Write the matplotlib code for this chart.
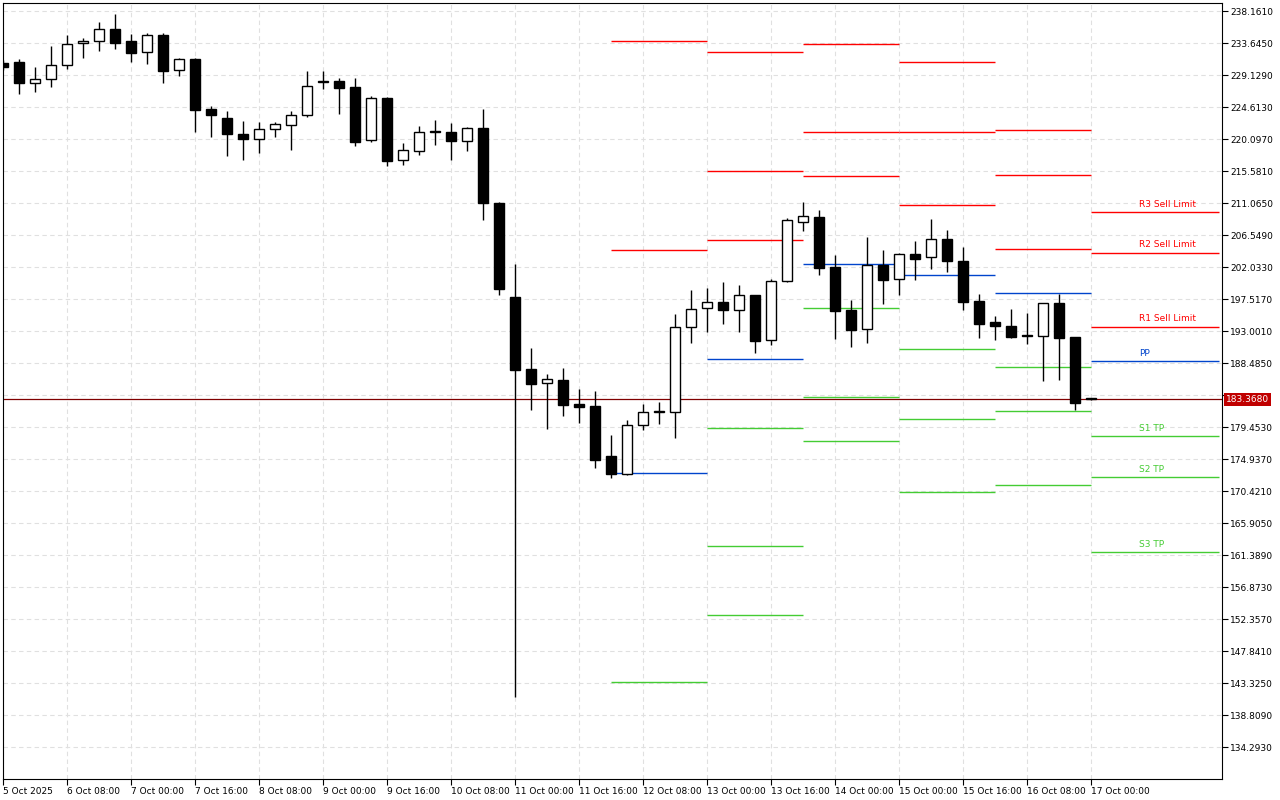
import numpy as np
import matplotlib.pyplot as plt
from matplotlib.patches import Rectangle

# 4h bars, OHLC
opens = [230.8, 231.0, 228.0, 228.57, 230.54, 233.65, 233.93, 235.62, 233.93, 232.38,
         234.77, 229.84, 231.39, 224.33, 223.06, 220.80, 220.10, 221.51, 222.07, 223.49,
         228.14, 228.28, 227.44, 219.96, 225.89, 217.14, 218.40, 221.09, 221.09, 219.82,
         221.65, 211.02, 197.76, 187.64, 185.62, 186.09, 182.70, 182.41, 175.36, 172.86,
         179.69, 181.53, 181.53, 193.53, 196.20, 197.05, 195.92, 198.04, 191.69, 200.02,
         208.34, 209.09, 202.03, 195.96, 193.24, 202.36, 200.30, 203.83, 203.40, 205.94,
         202.88, 197.23, 194.22, 193.70, 192.40, 192.25, 197.00, 192.15, 183.40]
highs = [231.3, 231.39, 230.26, 233.22, 234.77, 234.35, 236.61, 237.74, 234.92, 235.06,
         235.06, 231.53, 231.53, 224.75, 224.05, 222.64, 222.50, 222.50, 224.05, 229.69,
         229.69, 228.71, 228.71, 226.17, 226.03, 219.53, 221.93, 222.78, 222.36, 221.80,
         224.33, 211.25, 202.46, 190.60, 186.93, 187.78, 184.81, 184.53, 178.32, 180.48,
         182.70, 182.98, 195.40, 198.83, 199.07, 199.91, 199.45, 198.04, 200.30, 208.90,
         211.20, 210.08, 203.73, 197.36, 206.27, 204.44, 204.05, 205.70, 208.81, 207.25,
         204.81, 198.22, 195.12, 196.10, 195.54, 197.00, 198.26, 192.20, 183.50]
lows = [229.9, 226.45, 226.73, 227.44, 229.98, 231.53, 232.52, 232.80, 230.96, 230.68,
        228.00, 228.99, 221.09, 220.38, 217.70, 217.14, 218.12, 220.38, 218.55, 223.20,
        227.16, 223.63, 219.11, 219.67, 216.29, 216.43, 217.84, 219.25, 217.14, 218.40,
        208.67, 198.08, 141.35, 181.85, 179.17, 181.00, 180.02, 173.71, 172.30, 172.67,
        179.07, 179.87, 177.90, 191.30, 192.80, 193.99, 192.80, 189.94, 191.00, 199.91,
        207.16, 200.95, 191.86, 190.78, 191.30, 196.85, 198.08, 200.24, 201.79, 201.37,
        196.00, 192.05, 191.77, 192.05, 191.16, 185.99, 186.13, 181.85, 183.30]
closes = [230.2, 228.00, 228.57, 230.54, 233.50, 233.93, 235.62, 233.65, 232.23, 234.77,
          229.69, 231.39, 224.19, 223.49, 220.80, 220.10, 221.51, 222.22, 223.49, 227.58,
          228.28, 227.30, 219.67, 225.89, 216.99, 218.55, 221.09, 221.20, 219.82, 221.65,
          211.07, 198.97, 187.50, 185.52, 186.20, 182.56, 182.32, 174.79, 172.86, 179.69,
          181.53, 181.60, 193.56, 196.10, 197.05, 196.00, 198.04, 191.63, 200.02, 208.62,
          209.19, 201.93, 195.86, 193.18, 202.27, 200.24, 203.83, 203.20, 205.94, 202.92,
          197.14, 194.03, 193.75, 192.19, 192.30, 196.91, 192.05, 182.88, 183.37]
last_price = 183.368

# daily pivot segments: start bar + levels (kind r/p/s)
seg_starts = [38, 44, 50, 56, 62]
seg_levels = [
    [(233.93, "r"), (204.43, "r"), (172.96, "p"), (143.47, "s")],
    [(232.33, "r"), (215.54, "r"), (205.85, "r"), (189.05, "p"), (179.27, "s"), (162.62, "s"), (152.88, "s")],
    [(233.46, "r"), (221.04, "r"), (214.83, "r"), (202.41, "p"), (196.20, "s"), (183.65, "s"), (177.43, "s")],
    [(230.92, "r"), (221.04, "r"), (210.74, "r"), (200.86, "p"), (190.42, "s"), (180.54, "s"), (170.24, "s")],
    [(221.33, "r"), (214.97, "r"), (204.53, "r"), (198.32, "p"), (187.88, "s"), (181.67, "s"), (171.23, "s")],
]
cur_names = ["R3 Sell Limit", "R2 Sell Limit", "R1 Sell Limit", "PP", "S1 TP", "S2 TP", "S3 TP"]
cur_levels = [209.75, 204.01, 193.57, 188.74, 178.15, 172.37, 161.78]
cur_kinds = ["r", "r", "r", "p", "s", "s", "s"]

xtick_labels = ["5 Oct 2025", "6 Oct 08:00", "7 Oct 00:00", "7 Oct 16:00", "8 Oct 08:00",
                "9 Oct 00:00", "9 Oct 16:00", "10 Oct 08:00", "11 Oct 00:00", "11 Oct 16:00",
                "12 Oct 08:00", "13 Oct 00:00", "13 Oct 16:00", "14 Oct 00:00", "15 Oct 00:00",
                "15 Oct 16:00", "16 Oct 08:00", "17 Oct 00:00"]
ytick_top, ytick_step, n_yticks = 238.161, 4.516, 24

colors = {"r": "#ff0000", "p": "#0044cc", "s": "#44cc33"}
ymin, ymax = 129.78, 239.29

fig = plt.figure(figsize=(12.8, 8.0), dpi=100)
ax = fig.add_axes([3 / 1280, 21 / 800, 1219 / 1280, 776 / 800])

for i, (o, h, l, c) in enumerate(zip(opens, highs, lows, closes)):
    ax.vlines(i, l, h, color="black", lw=1, zorder=3)
    lo, hi = min(o, c), max(o, c)
    ax.add_patch(Rectangle((i - 0.31, lo), 0.62, max(hi - lo, 0.15),
                           facecolor="black" if c < o else "white",
                           edgecolor="black", lw=1, zorder=4))

for st, levels in zip(seg_starts, seg_levels):
    for lv, k in levels:
        ax.hlines(lv, st, st + 6, color=colors[k], lw=1, zorder=2)

n = len(opens) - 1
for name, lv, k in zip(cur_names, cur_levels, cur_kinds):
    ax.hlines(lv, n, n + 8, color=colors[k], lw=1, zorder=2)
    ax.text(n + 3.0, lv + 0.5, name, color=colors[k], fontsize=6.5, va="bottom", ha="left")

ax.axhline(last_price, color="#800000", lw=0.9, zorder=2)

ax.set_xlim(0, 76.2)
ax.set_ylim(ymin, ymax)
yt = [ytick_top - ytick_step * j for j in range(n_yticks)]
ax.yaxis.tick_right()
ax.set_yticks(yt)
ax.set_yticklabels(["" if abs(v - last_price) < 1 else f"{v:.4f}" for v in yt], fontsize=6.5)
ax.set_xticks(range(0, 4 * len(xtick_labels), 4))
ax.set_xticklabels(xtick_labels, fontsize=6.5, ha="left")
ax.tick_params(length=4, width=0.8, pad=2)
ax.grid(True, color="#e0e0e0", ls=(0, (4, 3)), lw=0.8)
ax.set_axisbelow(True)
for s in ax.spines.values():
    s.set_linewidth(0.8)

ax.text(1.003, (last_price - ymin) / (ymax - ymin), f"{last_price:.4f}",
        transform=ax.transAxes, fontsize=6.5, color="white", va="center", ha="left",
        bbox=dict(facecolor="#c00000", edgecolor="none", pad=1.5))

fig.savefig("out.png", dpi=100)
